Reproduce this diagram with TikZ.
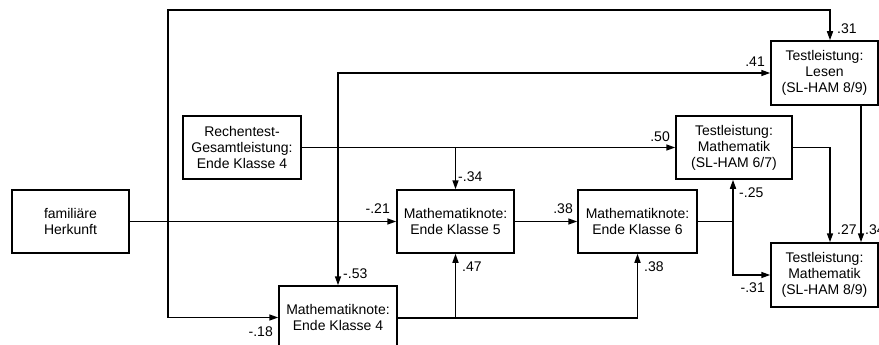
\documentclass[tikz,border=0pt]{standalone}
\usepackage{fontspec}
\setmainfont{Liberation Sans}
\usetikzlibrary{arrows.meta}
\begin{document}
\begin{tikzpicture}[x=1pt,y=-1pt]
\tikzstyle{box_style} = [draw, black, line width=1.5pt, align=center, inner sep=0pt, font=\fontsize{14}{16}\selectfont]
\tikzstyle{edge_style} = [-{Triangle[length=9pt,width=6pt]}, black, line width=1.5pt]
\tikzstyle{line_style} = [black, line width=1.5pt]
\tikzstyle{coef_style} = [inner sep=1pt, font=\fontsize{14}{16}\selectfont]
    \useasboundingbox (0,0) rectangle (879,345);

    % predictors
    \node[box_style, minimum width=117pt, minimum height=63pt] (herkunft) at (70.5,221.5) {familiäre\\Herkunft};
    \node[box_style, minimum width=118pt, minimum height=63pt] (rechen) at (242,147.5) {Rechentest-\\Gesamtleistung:\\Ende Klasse 4};

    % school marks
    \node[box_style, minimum width=118pt, minimum height=63pt] (note4) at (338,317.5) {Mathematiknote:\\Ende Klasse 4};
    \node[box_style, minimum width=117pt, minimum height=63pt] (note5) at (455.5,221.5) {Mathematiknote:\\Ende Klasse 5};
    \node[box_style, minimum width=119pt, minimum height=63pt] (note6) at (637.5,221.5) {Mathematiknote:\\Ende Klasse 6};

    % test results
    \node[box_style, minimum width=116pt, minimum height=63pt] (mathe67) at (734,147.5) {Testleistung:\\Mathematik\\(SL-HAM 6/7)};
    \node[box_style, minimum width=107pt, minimum height=64pt] (lesen) at (824.5,73) {Testleistung:\\Lesen\\(SL-HAM 8/9)};
    \node[box_style, minimum width=107pt, minimum height=64pt] (mathe89) at (824.5,275) {Testleistung:\\Mathematik\\(SL-HAM 8/9)};

    % branch points
    \coordinate (h1) at (168,221.5);
    \coordinate (top) at (168,10);
    \coordinate (r1) at (338,147.5);
    \coordinate (r2) at (455.5,147.5);
    \coordinate (n4a) at (455.5,318);
    \coordinate (n4b) at (637.5,318);
    \coordinate (n6) at (733,221.5);
    \coordinate (m67) at (830,147.5);
    \coordinate (le) at (861,105);

    \draw[edge_style] (herkunft) -- (note5);
    \draw[edge_style] (h1) |- (note4.west);
    \draw[edge_style] (h1) -- (top) -| ([xshift=5.5pt]lesen.north);

    \draw[edge_style] (rechen) -- (mathe67);
    \draw[edge_style] (r1) |- (lesen.west);
    \draw[edge_style] (r1) -- (r1 |- note4.north);
    \draw[edge_style] (r2) -- (note5.north);

    \draw[edge_style] (note5) -- (note6);
    \draw[line_style] (note4.east |- n4a) -- (n4b);
    \draw[edge_style] (n4a) -- (note5.south);
    \draw[edge_style] (n4b) -- (note6.south);

    \draw[line_style] (note6.east) -- (n6);
    \draw[edge_style] (n6) -- (n6 |- mathe67.south);
    \draw[edge_style] (n6) |- (mathe89.west);

    \draw[edge_style] (mathe67.east) -| (m67 |- mathe89.north);
    \draw[edge_style] (le) -- (le |- mathe89.north);

    % path coefficients
    \node[coef_style, anchor=east] (c1) at (391,209) {-.21};
    \node[coef_style, anchor=east] (c2) at (274,332) {-.18};
    \node[coef_style, anchor=west] (c3) at (836,29) {.31};
    \node[coef_style, anchor=east] (c4) at (671,137) {.50};
    \node[coef_style, anchor=east] (c5) at (766,62) {.41};
    \node[coef_style, anchor=west] (c6) at (342,274) {-.53};
    \node[coef_style, anchor=west] (c7) at (457,177) {-.34};
    \node[coef_style, anchor=east] (c8) at (574,209) {.38};
    \node[coef_style, anchor=west] (c9) at (461,267) {.47};
    \node[coef_style, anchor=west] (c10) at (643,267) {.38};
    \node[coef_style, anchor=west] (c11) at (738,193) {-.25};
    \node[coef_style, anchor=east] (c12) at (766,288) {-.31};
    \node[coef_style, anchor=west] (c13) at (836,230) {.27};
    \node[coef_style, anchor=west] (c14) at (864,230) {.34};
\end{tikzpicture}
\end{document}
